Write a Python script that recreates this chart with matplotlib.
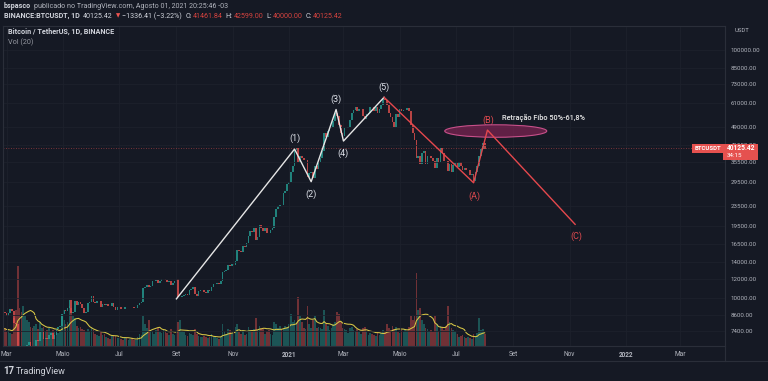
import numpy as np
import pandas as pd
import matplotlib
matplotlib.use('Agg')
import matplotlib.pyplot as plt
import matplotlib.dates as mdates
import matplotlib.transforms as mtransforms
from matplotlib.patches import Ellipse, Rectangle
from matplotlib.lines import Line2D

plt.rcParams['font.family'] = ['Roboto', 'DejaVu Sans']

# BTCUSDT, one value every 2 days from 2020-02-24 to 2021-08-01
first_open = 9960
closes = [
    9650, 8800, 8700,
    8520, 8760, 9060, 8900, 7930, 7900, 5600, 5360, 5350, 6170, 6190, 6480, 6680, 6370, 5880, 6410,
    6800, 6740, 7290, 7370, 6860, 6910, 6840, 7110, 7260, 6840, 7130, 7500, 7690, 7760, 8620,
    8990, 8890, 9150, 9810, 8720, 8820, 9790, 9380, 9670, 9520, 9170, 8720, 8840, 9570, 9700,
    10200, 9670, 9620, 9750, 9780, 9270, 9470, 9430, 9450, 9300, 9290, 9620, 9250, 9000, 9190,
    9230, 9080, 9070, 9250, 9230, 9230, 9240, 9190, 9150, 9170, 9390, 9600, 9700, 11030, 11110, 11350,
    11060, 11220, 11740, 11770, 11880, 11560, 11780, 11910, 11970, 11860, 11680, 11750, 11330, 11530, 11700,
    11920, 10170, 10170, 10260, 10340, 10390, 10330, 10800, 10950, 11080, 10420, 10230, 10730, 10780, 10840,
    10620, 10550, 10790, 10670, 11060, 11380, 11420, 11510, 11370, 11750, 12800, 12930, 13030, 13650, 13460, 13800,
    13560, 14130, 15590, 15480, 15300, 16300, 16070, 16720, 17800, 18680, 18420, 19160, 17150, 17720, 19700,
    19200, 18650, 19150, 18320, 18250, 18800, 19270, 21300, 22800, 23470, 23820, 23730, 26440, 27040, 28880,
    29370, 32180, 33990, 39400, 40150, 35560, 37370, 36770, 35990, 36020, 30820, 32080, 32260, 30430, 34260, 33090,
    35510, 36630, 39260, 46200, 44840, 47400, 48580, 49200, 51570, 56000, 54090, 49700, 46280, 45140,
    48370, 48750, 48880, 52400, 55850, 57250, 59000, 56900, 57650, 58090, 54080, 52770, 55050, 55800, 58740,
    58720, 57060, 58730, 56000, 58080, 60000, 63580, 63160, 60060, 55700, 53800, 51170, 49070, 55040, 53550,
    57800, 56620, 57170, 57330, 58230, 56700, 49670, 46420, 43540, 36700, 37300, 34770, 38400, 39280, 34600, 37300,
    37560, 36860, 35800, 33560, 36690, 35550, 40140, 38350, 35830, 35600, 32500, 34700, 32240, 34480, 35040,
    33820, 35290, 34230, 32860, 33510, 32730, 32820, 31380, 31780, 29790, 32290, 34270, 37260, 40010, 42230,
    40125,
]
# volume in thousand BTC
volumes = [
    75, 95, 90,
    70, 80, 65, 60, 140, 180, 400, 190, 170, 200, 150, 130, 120, 95, 90, 100,
    110, 85, 120, 90, 95, 75, 80, 90, 70, 80, 70, 75, 65, 80, 150,
    130, 110, 120, 200, 190, 150, 140, 100, 90, 95, 85, 80, 70, 85, 75,
    95, 80, 60, 55, 50, 75, 55, 60, 45, 40, 35, 50, 55, 50, 40,
    40, 35, 30, 45, 40, 30, 35, 38, 30, 28, 45, 60, 55, 150, 110, 90,
    130, 80, 75, 60, 80, 90, 70, 65, 80, 75, 65, 55, 85, 60, 55,
    80, 120, 130, 75, 70, 55, 50, 65, 60, 55, 85, 60, 50, 45, 45,
    50, 45, 40, 45, 60, 45, 50, 40, 35, 45, 110, 75, 60, 85, 80, 60,
    65, 95, 110, 70, 60, 80, 55, 60, 95, 80, 70, 85, 140, 80, 100,
    90, 85, 60, 75, 80, 60, 55, 120, 110, 90, 100, 85, 90, 100, 95,
    110, 160, 120, 130, 120, 245, 150, 120, 90, 85, 200, 110, 90, 130, 150, 90,
    95, 90, 85, 180, 110, 100, 80, 90, 110, 120, 170, 160, 120, 90,
    85, 80, 65, 90, 95, 80, 75, 85, 70, 60, 90, 95, 70, 55, 65,
    60, 55, 50, 70, 55, 65, 80, 75, 110, 90, 80, 100, 85, 95, 70,
    65, 80, 70, 85, 75, 95, 150, 130, 150, 365, 180, 190, 130, 110, 90, 85,
    75, 80, 70, 150, 110, 75, 100, 95, 80, 100, 200, 120, 90, 80, 75,
    60, 45, 50, 55, 45, 40, 45, 40, 35, 60, 50, 65, 140, 80, 85,
    60,
]

wave_dates = ['2020-09-01', '2021-01-07', '2021-01-25', '2021-02-21', '2021-03-01', '2021-04-14']
wave_prices = [9950, 39900, 29500, 57600, 43000, 64500]
wave_labels = ['', '(1)', '(2)', '(3)', '(4)', '(5)']
abc_dates = ['2021-04-14', '2021-07-20', '2021-08-04', '2021-11-07']
abc_prices = [64500, 29200, 47600, 19860]
abc_labels = ['', '(A)', '(B)', '(C)']

price_ticks = [100000, 85000, 73000, 61000, 49000, 41550, 35500, 29500, 23500,
               19500, 16500, 14000, 12000, 10000, 8600, 7400]
month_labels = ['Mar', 'Maio', 'Jul', 'Set', 'Nov', '2021', 'Mar', 'Maio', 'Jul',
                'Set', 'Nov', '2022', 'Mar']
last_price = 40125.42

bg = '#151924'
border = '#2a2e39'
txt = '#b2b5be'
light = '#d1d4dc'
up_col = '#26a69a'
down_col = '#ef5350'
red_line = '#e5484d'
red_txt = '#d5433f'

W, H = 768, 381
def fx(x):
    return x / W
def fy(y):
    return 1 - y / H

fig = plt.figure(figsize=(7.68, 3.81), dpi=100, facecolor=bg)
ax = fig.add_axes([fx(3), fy(346), (725 - 3) / W, (346 - 26) / H])
ax2 = ax.twinx()
ax2.set_zorder(ax.get_zorder() - 1)
ax.patch.set_visible(False)
ax2.patch.set_facecolor(bg)

dates = pd.date_range('2020-02-24', periods=len(closes), freq='2D')
closes = np.array(closes, dtype=float)
opens = np.r_[first_open, closes[:-1]]
up = closes >= opens

# volume overlay
vol_colors = np.where(up, up_col, down_col)
ax2.bar(dates, volumes, width=1.8, color=vol_colors, alpha=0.42, linewidth=0)
vol_ma = pd.Series(volumes).rolling(10, min_periods=1).mean()
ax2.plot(dates, vol_ma, color='#d9c846', lw=0.75)
ax2.set_ylim(0, 1600)
ax2.set_yticks([])
for s in ax2.spines.values():
    s.set_visible(False)

# candles
ax.set_yscale('log')
ax.bar(dates, np.abs(closes - opens), bottom=np.minimum(opens, closes), width=1.8,
       color=np.where(up, up_col, down_col), alpha=0.75, linewidth=0)

# elliott waves
wd = pd.to_datetime(wave_dates)
ax.plot(wd, wave_prices, color='#e6e6e6', lw=1.0, zorder=5)
ad = pd.to_datetime(abc_dates)
ax.plot(ad, abc_prices, color=red_line, lw=1.0, zorder=5)

for d, p, lab, i in zip(wd, wave_prices, wave_labels, range(len(wave_labels))):
    if not lab:
        continue
    off = 7.5 if i % 2 == 1 else -9
    ax.annotate(lab, (d, p), xytext=(0, off), textcoords='offset points', ha='center',
                va='center', color='#e0e3eb', fontsize=6.5)
for d, p, lab, off in zip(ad, abc_prices, abc_labels, [0, -9.5, 7, -8.5]):
    if not lab:
        continue
    ax.annotate(lab, (d, p), xytext=(0.8, off), textcoords='offset points', ha='center',
                va='center', color='#e04a4f', fontsize=6.5)

# fibo zone
ell_center = mdates.date2num(pd.Timestamp('2021-08-13'))
trans = fig.dpi_scale_trans + mtransforms.ScaledTranslation(ell_center, 47180, ax.transData)
ax.add_patch(Ellipse((0, 0), 1.02, 0.125, transform=trans, facecolor=(0.62, 0.15, 0.38, 0.55),
                     edgecolor='#c8508a', lw=0.8, zorder=4))
ax.annotate('Retração Fibo 50%-61,8%', (ad[2], abc_prices[2]), xytext=(10.5, 9),
            textcoords='offset points', ha='left', va='center', color='#e8e8e8',
            fontsize=5.3, fontweight='medium')

# last price line
ax.axhline(last_price, color=down_col, lw=0.6, ls=(0, (1, 2)), alpha=0.6)

# axes
base = mdates.date2num(pd.Timestamp('2021-01-01'))
ax.set_xlim(base - 309.9, base + 472.4)
ax.set_ylim(6427, 124960)
ax.set_xticks(pd.date_range('2020-03-01', '2022-03-01', freq='2MS'))
ax.set_xticklabels(month_labels)
for lab in ax.get_xticklabels():
    if lab.get_text() in ('2021', '2022'):
        lab.set_fontweight('bold')
ax.yaxis.tick_right()
ax.set_yticks(price_ticks)
ax.set_yticklabels([f'{p:.2f}' for p in price_ticks])
ax.yaxis.set_minor_locator(matplotlib.ticker.NullLocator())
ax.tick_params(axis='x', length=0, pad=3.5, labelsize=4.7, colors=txt)
ax.tick_params(axis='y', length=0, pad=4, labelsize=4.4, colors=txt)
ax.grid(True, color='#1d212c', lw=0.6)
for s in ax.spines.values():
    s.set_color(border)
    s.set_linewidth(0.8)

# header lines, each piece placed right after the previous one
renderer = fig.canvas.get_renderer()
def text_row(y, pieces, x=4):
    for s, c, w, size, gap in pieces:
        t = fig.text(fx(x), fy(y), s, size=size, color=c, weight=w, va='center')
        x = t.get_window_extent(renderer).x1 + gap

text_row(6, [('bspasco', light, 'bold', 5.1, 3),
             ('publicado no TradingView.com, Agosto 01, 2021 20:25:46 -03', txt, 'normal', 5.1, 0)])
text_row(16, [('BINANCE:BTCUSDT, 1D', light, 'bold', 5.1, 3.5),
              ('40125.42', light, 'normal', 5.1, 3),
              ('▼', down_col, 'normal', 4, 2),
              ('−1336.41 (−3.22%)', light, 'normal', 5.1, 3.5),
              ('O:', light, 'normal', 5.1, 1), ('41461.84', red_txt, 'normal', 5.1, 3),
              ('H:', light, 'normal', 5.1, 1), ('42599.00', red_txt, 'normal', 5.1, 3),
              ('L:', light, 'normal', 5.1, 1), ('40000.00', red_txt, 'normal', 5.1, 3),
              ('C:', light, 'normal', 5.1, 1), ('40125.42', red_txt, 'normal', 5.1, 0)])
fig.text(fx(8), fy(32), 'Bitcoin / TetherUS, 1D, BINANCE', size=5.2, weight='bold',
         color=light, va='center')
fig.text(fx(8), fy(42), 'Vol (20)', size=5.2, color='#9598a1', va='center')
fig.text(fx(735), fy(31), 'USDT', size=4.3, color=txt, va='center')

# price tag
fig.add_artist(Rectangle((fx(692), fy(153)), 31 / W, 9 / H, transform=fig.transFigure,
                         facecolor='#e5514f', edgecolor='none'))
fig.text(fx(707.5), fy(148.5), 'BTCUSDT', size=4.3, color='white', weight='bold',
         ha='center', va='center')
fig.add_artist(Rectangle((fx(723), fy(160)), 35 / W, 16 / H, transform=fig.transFigure,
                         facecolor='#e5514f', edgecolor='none'))
fig.text(fx(727), fy(148.5), '40125.42', size=4.8, color='white', weight='bold', va='center')
fig.text(fx(727), fy(156), '34:15', size=4.5, color='white', va='center')

# bottom bar
fig.add_artist(Line2D([0, 1], [fy(361), fy(361)], transform=fig.transFigure, color=border, lw=0.8))
fig.add_artist(Line2D([fx(725), fx(725)], [fy(361), fy(346)], transform=fig.transFigure,
                      color=border, lw=0.8))
fig.text(fx(3), fy(371), '17', size=7, weight='bold', color=light, va='center')
fig.text(fx(16), fy(371), 'TradingView', size=6.5, color=light, va='center')

fig.savefig('out.png', dpi=100, facecolor=bg)
